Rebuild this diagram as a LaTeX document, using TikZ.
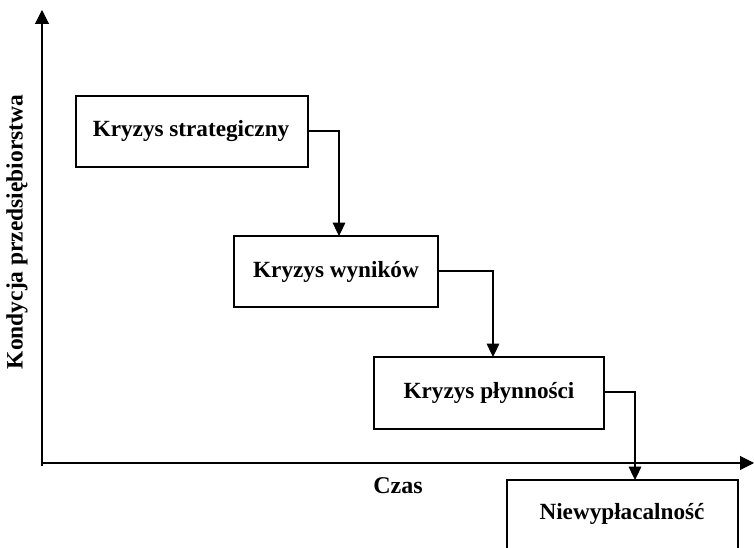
\documentclass[tikz,border=0pt]{standalone}
\usepackage{fontspec}
\setmainfont{Liberation Serif}
\usetikzlibrary{arrows.meta}
\begin{document}
\begin{tikzpicture}[x=0.75pt,y=-0.75pt,
  box/.style={draw,line width=0.9pt,inner sep=0pt},
  lbl/.style={font=\bfseries\fontsize{17.4}{20}\selectfont},
  conn/.style={line width=0.8pt,-{Triangle[length=10pt,width=9.5pt]}},
  axis/.style={line width=0.8pt,-{Triangle[length=10.5pt,width=10.5pt]}}]
\useasboundingbox (0,0) rectangle (754,548);
\clip (0,0) rectangle (754,548);
\coordinate (o) at (42,463);
\coordinate (ytip) at (42,10);
\coordinate (xtip) at (754,463);
\draw[axis] (42,466) -- (ytip);
\draw[axis] (42,463) -- (xtip);
\node[rotate=90,font=\bfseries\fontsize{17.6}{20}\selectfont] (ylab) at (17,232) {Kondycja przedsiębiorstwa};
\node[font=\bfseries\fontsize{18}{20}\selectfont] (czas) at (398,486) {Czas};
\draw[box] (76,96) rectangle (308,167);
\node[lbl] (b1) at (191,131) {Kryzys strategiczny};
\draw[box] (234,236) rectangle (438,307);
\node[lbl] (b2) at (336,272) {Kryzys wyników};
\draw[box] (374,357) rectangle (604,429);
\node[lbl] (b3) at (489,393) {Kryzys płynności};
\draw[box] (507,480) rectangle (738,560);
\node[lbl] (b4) at (622,514) {Niewypłacalność};
\coordinate (b1e) at (308,131);
\coordinate (b2n) at (339,236);
\coordinate (b2e) at (438,271);
\coordinate (b3n) at (493,357);
\coordinate (b3e) at (604,392);
\coordinate (b4n) at (635,480);
\draw[conn] (b1e) -| (b2n);
\draw[conn] (b2e) -| (b3n);
\draw[conn] (b3e) -| (b4n);
\end{tikzpicture}
\end{document}
